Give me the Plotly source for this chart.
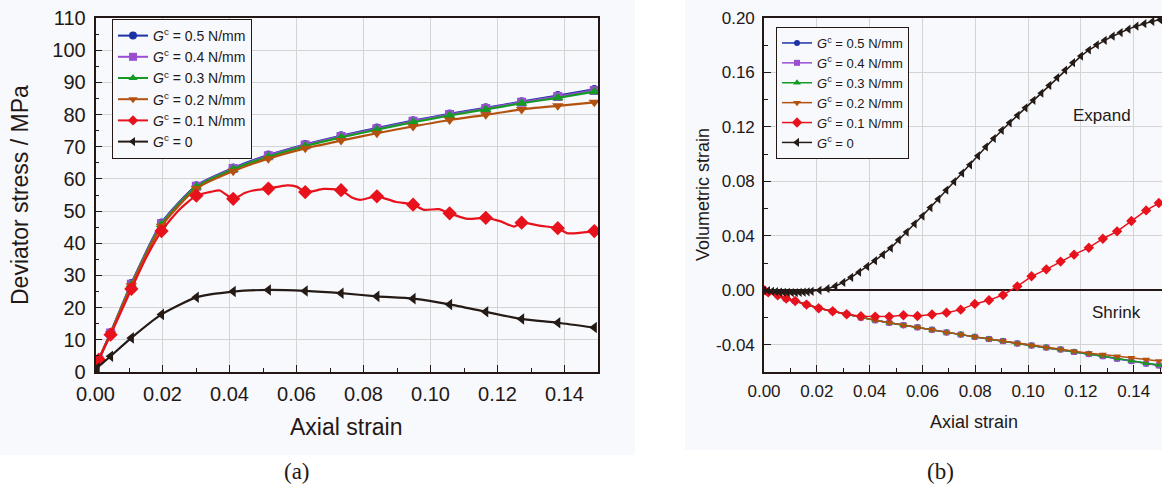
import plotly.graph_objects as go

W, H = 1162, 487

# ---------------- (a) deviator stress vs axial strain ----------------
strain_a = [0.0, 0.001, 0.0045, 0.0107, 0.0197, 0.0301, 0.0411, 0.0516, 0.0626,
            0.0733, 0.084, 0.0948, 0.1057, 0.1165, 0.1272, 0.138, 0.1489]
stress_g05 = [0, 3.8, 12.2, 27.5, 46.3, 57.9, 63.4, 67.4, 70.7, 73.4, 75.8, 78.1,
              80.2, 82.1, 84.0, 85.9, 87.8]
stress_g04 = [0, 3.8, 12.1, 27.3, 46.1, 57.7, 63.2, 67.2, 70.5, 73.2, 75.6, 77.9,
              80.0, 81.9, 83.8, 85.6, 87.5]
stress_g03 = [0, 3.7, 12.0, 27.1, 45.8, 57.5, 63.0, 66.9, 70.2, 72.9, 75.3, 77.6,
              79.7, 81.6, 83.5, 85.2, 87.1]
stress_g02 = [0, 3.7, 11.9, 26.8, 45.3, 57.0, 62.4, 66.3, 69.5, 71.9, 74.2, 76.3,
              78.3, 79.9, 81.6, 82.7, 83.8]

strain_a01 = [0.0, 0.001, 0.0045, 0.0107, 0.015, 0.0197, 0.025, 0.0301, 0.0345,
              0.0371, 0.0411, 0.0445, 0.047, 0.0516, 0.0571, 0.06, 0.0626, 0.065,
              0.068, 0.0733, 0.0765, 0.079, 0.084, 0.0895, 0.0948, 0.098, 0.1025,
              0.1057, 0.111, 0.1165, 0.121, 0.125, 0.1272, 0.133, 0.138, 0.141, 0.1489]
stress_g01 = [0, 3.8, 11.6, 25.8, 35.3, 43.8, 50.4, 54.8, 56.0,
              56.4, 53.8, 55.6, 56.4, 57.0, 58.0, 57.6, 55.9, 56.2,
              56.9, 56.5, 54.2, 53.5, 54.6, 52.9, 52.0, 50.4, 50.6,
              49.3, 47.6, 47.9, 46.8, 45.2, 46.4, 45.4, 44.7, 43.1, 43.8]
marked_g01 = [0, 1, 1, 1, 0, 1, 0, 1, 0,
              0, 1, 0, 0, 1, 0, 0, 1, 0,
              0, 1, 0, 0, 1, 0, 1, 0, 0,
              1, 0, 1, 0, 0, 1, 0, 1, 0, 1]

strain_a0 = [0.0, 0.0005, 0.0045, 0.0107, 0.0197, 0.0301, 0.0411, 0.0516, 0.0626,
             0.0733, 0.084, 0.0948, 0.1057, 0.1165, 0.1272, 0.138, 0.1489]
stress_g0 = [0, 1.2, 4.9, 10.6, 17.9, 23.2, 25.0, 25.5, 25.2, 24.5, 23.5, 22.8,
             21.0, 18.7, 16.5, 15.3, 13.8]

# ---------------- (b) volumetric strain vs axial strain ----------------
strain_b = [0.0, 0.0016, 0.0052, 0.0084, 0.0118, 0.0161, 0.0207, 0.026, 0.0313,
            0.0367, 0.0421, 0.0474, 0.0528, 0.0581, 0.0636, 0.0691, 0.0745, 0.0798,
            0.0852, 0.0905, 0.0959, 0.1013, 0.1069, 0.1123, 0.1174, 0.123, 0.1283,
            0.1337, 0.1391, 0.1447, 0.1495]
vol_g05 = [0.0, -0.0015, -0.0037, -0.0061, -0.0078, -0.0105, -0.0132, -0.0154, -0.0176,
           -0.0200, -0.0220, -0.0238, -0.0256, -0.0272, -0.0289, -0.0309, -0.0325, -0.0342,
           -0.0358, -0.0373, -0.0390, -0.0405, -0.0420, -0.0435, -0.0454, -0.0469, -0.0485,
           -0.0503, -0.0521, -0.0539, -0.0553]
vol_g04 = [0.0, -0.0015, -0.0037, -0.0061, -0.0078, -0.0105, -0.0132, -0.0154, -0.0176,
           -0.0200, -0.0220, -0.0238, -0.0256, -0.0272, -0.0289, -0.0309, -0.0325, -0.0342,
           -0.0358, -0.0373, -0.0390, -0.0405, -0.0420, -0.0434, -0.0453, -0.0468, -0.0484,
           -0.0502, -0.0519, -0.0537, -0.0551]
vol_g03 = [0.0, -0.0015, -0.0037, -0.0061, -0.0078, -0.0105, -0.0132, -0.0154, -0.0176,
           -0.0200, -0.0220, -0.0238, -0.0256, -0.0272, -0.0289, -0.0309, -0.0325, -0.0342,
           -0.0358, -0.0373, -0.0390, -0.0405, -0.0420, -0.0434, -0.0452, -0.0466, -0.0482,
           -0.0500, -0.0517, -0.0535, -0.0549]
vol_g02 = [0.0, -0.0015, -0.0037, -0.0061, -0.0078, -0.0105, -0.0132, -0.0154, -0.0176,
           -0.0200, -0.0220, -0.0238, -0.0256, -0.0272, -0.0289, -0.0309, -0.0325, -0.0342,
           -0.0358, -0.0373, -0.0390, -0.0405, -0.0420, -0.0434, -0.0450, -0.0462, -0.0472,
           -0.0484, -0.0495, -0.0508, -0.0519]
vol_g01 = [0.0, -0.0015, -0.0037, -0.0061, -0.0078, -0.0105, -0.0132, -0.0154, -0.0176,
           -0.0191, -0.0193, -0.0193, -0.0183, -0.0189, -0.0178, -0.0164, -0.0142, -0.0100,
           -0.0073, -0.0034, 0.0029, 0.0103, 0.0154, 0.0211, 0.0262, 0.0313, 0.0379,
           0.0433, 0.0509, 0.0587, 0.0641]

strain_b0 = [0.0, 0.0015, 0.003, 0.0045, 0.006, 0.0075, 0.009, 0.0105, 0.012, 0.0135,
             0.015, 0.0165, 0.018, 0.021, 0.024, 0.027, 0.030, 0.033, 0.036, 0.039,
             0.042, 0.045, 0.048, 0.051, 0.054, 0.057, 0.060, 0.063, 0.066, 0.069,
             0.072, 0.075, 0.078, 0.081, 0.084, 0.087, 0.090, 0.093, 0.096, 0.099,
             0.102, 0.105, 0.108, 0.111, 0.114, 0.117, 0.120, 0.123, 0.126, 0.129,
             0.132, 0.135, 0.138, 0.141, 0.144, 0.147, 0.150]
vol_g0 = [0.0, -0.0003, -0.0007, -0.0010, -0.0013, -0.0015, -0.0016, -0.0017, -0.0017, -0.0016,
          -0.0014, -0.0011, -0.0007, 0.0000, 0.0012, 0.0030, 0.0058, 0.0095, 0.0133, 0.0175,
          0.0218, 0.0262, 0.0310, 0.0370, 0.0428, 0.0488, 0.0545, 0.0608, 0.0670, 0.0735,
          0.0798, 0.0860, 0.0922, 0.0988, 0.1053, 0.1115, 0.1175, 0.1230, 0.1285, 0.1340,
          0.1395, 0.1448, 0.1505, 0.1562, 0.1617, 0.1672, 0.1720, 0.1765, 0.1803, 0.1836,
          0.1866, 0.1893, 0.1918, 0.1940, 0.1958, 0.1975, 0.1988]

# ---------------- tick labels ----------------
x_tickvals = [0.0, 0.02, 0.04, 0.06, 0.08, 0.10, 0.12, 0.14]
x_ticktext = ["0.00", "0.02", "0.04", "0.06", "0.08", "0.10", "0.12", "0.14"]
ya_tickvals = [0, 10, 20, 30, 40, 50, 60, 70, 80, 90, 100, 110]
yb_tickvals = [-0.04, 0.0, 0.04, 0.08, 0.12, 0.16, 0.20]
yb_ticktext = ["-0.04", "0.00", "0.04", "0.08", "0.12", "0.16", "0.20"]

labels = ["<i>G</i><sup>c</sup> = 0.5 N/mm", "<i>G</i><sup>c</sup> = 0.4 N/mm",
          "<i>G</i><sup>c</sup> = 0.3 N/mm", "<i>G</i><sup>c</sup> = 0.2 N/mm",
          "<i>G</i><sup>c</sup> = 0.1 N/mm", "<i>G</i><sup>c</sup> = 0"]
colors = ["#1c33a6", "#9a4fd2", "#169a26", "#b3520e", "#e8121c", "#241a16"]
symbols = ["circle", "square", "triangle-up", "triangle-down", "diamond", "triangle-left"]

INK = "#231815"
PANEL = "#f8f9fd"
FONT = "Liberation Sans, Arial, sans-serif"

fig = go.Figure()

# panel (a): line through all points, markers only on flagged points, legend proxy
series_a = [
    (strain_a, stress_g05, [0] + [1] * 16),
    (strain_a, stress_g04, [0] + [1] * 16),
    (strain_a, stress_g03, [0] + [1] * 16),
    (strain_a, stress_g02, [0] + [1] * 16),
    (strain_a01, stress_g01, marked_g01),
    (strain_a0, stress_g0, [0] + [1] * 16),
]
msize_a = [9, 9, 10, 10, 11, 10]
for i, (xs, ys, mk) in enumerate(series_a):
    fig.add_trace(go.Scatter(
        x=xs, y=ys, mode="lines", xaxis="x", yaxis="y",
        line=dict(color=colors[i], width=2.2, shape="spline", smoothing=0.6),
        legendgroup=f"a{i}", showlegend=False, hoverinfo="skip"))
    fig.add_trace(go.Scatter(
        x=[x for x, m in zip(xs, mk) if m], y=[y for y, m in zip(ys, mk) if m],
        mode="markers", xaxis="x", yaxis="y",
        marker=dict(color=colors[i], symbol=symbols[i], size=msize_a[i], line=dict(width=0)),
        legendgroup=f"a{i}", showlegend=False))
for i in range(6):
    fig.add_trace(go.Scatter(
        x=[None], y=[None], mode="lines+markers", name=labels[i], xaxis="x", yaxis="y",
        legend="legend", legendgroup=f"a{i}",
        line=dict(color=colors[i], width=2),
        marker=dict(color=colors[i], symbol=symbols[i], size=8, line=dict(width=0))))

# panel (b)
series_b = [
    (strain_b, vol_g05), (strain_b, vol_g04), (strain_b, vol_g03),
    (strain_b, vol_g02), (strain_b, vol_g01), (strain_b0, vol_g0),
]
msize_b = [6, 6, 7, 7, 8, 8]
for i, (xs, ys) in enumerate(series_b):
    fig.add_trace(go.Scatter(
        x=xs, y=ys, mode="lines+markers", name=labels[i], xaxis="x2", yaxis="y2",
        legend="legend2",
        line=dict(color=colors[i], width=1.5),
        marker=dict(color=colors[i], symbol=symbols[i], size=msize_b[i], line=dict(width=0))))

def px_x(p):
    return p / W

def px_y(p):
    return 1 - p / H

axis_common = dict(
    showline=True, linecolor=INK, linewidth=1.6, ticks="inside", ticklen=7,
    tickwidth=1.3, tickcolor=INK, showgrid=True, gridcolor="#d4d4d4", gridwidth=1,
    zeroline=False, automargin=False, tickfont=dict(family=FONT, color=INK),
)

fig.update_layout(
    width=W, height=H, margin=dict(l=0, r=0, t=0, b=0, autoexpand=False),
    paper_bgcolor="white", plot_bgcolor=PANEL,
    font=dict(family=FONT, color=INK),
    xaxis=dict(axis_common, domain=[px_x(95.5), px_x(598)], range=[0, 0.15],
               anchor="y", mirror=True, tickvals=x_tickvals, ticktext=x_ticktext,
               tickfont=dict(family=FONT, color=INK, size=20), ticklabelstandoff=3,
               minor=dict(dtick=0.01, ticklen=4, tickcolor=INK, ticks="inside", showgrid=False)),
    yaxis=dict(axis_common, domain=[px_y(372), px_y(18)], range=[0, 110],
               anchor="x", mirror=True, tickvals=ya_tickvals,
               tickfont=dict(family=FONT, color=INK, size=20), ticklabelstandoff=4,
               minor=dict(dtick=5, ticklen=4, tickcolor=INK, ticks="inside", showgrid=False)),
    xaxis2=dict(axis_common, domain=[px_x(764), 1.0], range=[0, 0.1507],
                anchor="y2", mirror=True, tickvals=x_tickvals, ticktext=x_ticktext,
                tickfont=dict(family=FONT, color=INK, size=17), ticklabelstandoff=3,
                minor=dict(dtick=0.01, ticklen=4, tickcolor=INK, ticks="inside", showgrid=False)),
    yaxis2=dict(axis_common, domain=[px_y(372), px_y(18)], range=[-0.06, 0.20],
                anchor="x2", mirror=False, tickvals=yb_tickvals, ticktext=yb_ticktext,
                zeroline=True, zerolinecolor=INK, zerolinewidth=1.5,
                tickfont=dict(family=FONT, color=INK, size=17), ticklabelstandoff=4,
                minor=dict(dtick=0.02, ticklen=4, tickcolor=INK, ticks="inside", showgrid=False)),
    legend=dict(x=px_x(112), y=px_y(19), xanchor="left", yanchor="top",
                bgcolor=PANEL, bordercolor=INK, borderwidth=1,
                font=dict(family=FONT, size=14, color=INK), tracegroupgap=0),
    legend2=dict(x=px_x(776), y=px_y(27), xanchor="left", yanchor="top",
                 bgcolor=PANEL, bordercolor=INK, borderwidth=1,
                 font=dict(family=FONT, size=13, color=INK), tracegroupgap=0),
    showlegend=True,
)

# panel backgrounds
fig.add_shape(type="rect", xref="paper", yref="paper", x0=0, x1=px_x(635),
              y0=px_y(455), y1=1, fillcolor=PANEL, line=dict(width=0), layer="below")
fig.add_shape(type="rect", xref="paper", yref="paper", x0=px_x(685), x1=1,
              y0=px_y(450), y1=1, fillcolor=PANEL, line=dict(width=0), layer="below")

def note(text, x, y, size, angle=0, family=FONT):
    fig.add_annotation(text=text, x=px_x(x), y=px_y(y), xref="paper", yref="paper",
                       showarrow=False, textangle=angle, xanchor="center", yanchor="middle",
                       font=dict(family=family, size=size, color=INK))

note("Axial strain", 346, 427, 23)
note("Deviator stress / MPa", 20, 195, 23, angle=-90)
note("Axial strain", 974, 422, 18)
note("Volumetric strain", 703, 195, 18, angle=-90)
note("Expand", 1102, 115, 17)
note("Shrink", 1116, 312, 17)
note("(a)", 297, 471, 23, family="Liberation Serif, Times New Roman, serif")
note("(b)", 940, 471, 23, family="Liberation Serif, Times New Roman, serif")

fig.write_html("out.html")
